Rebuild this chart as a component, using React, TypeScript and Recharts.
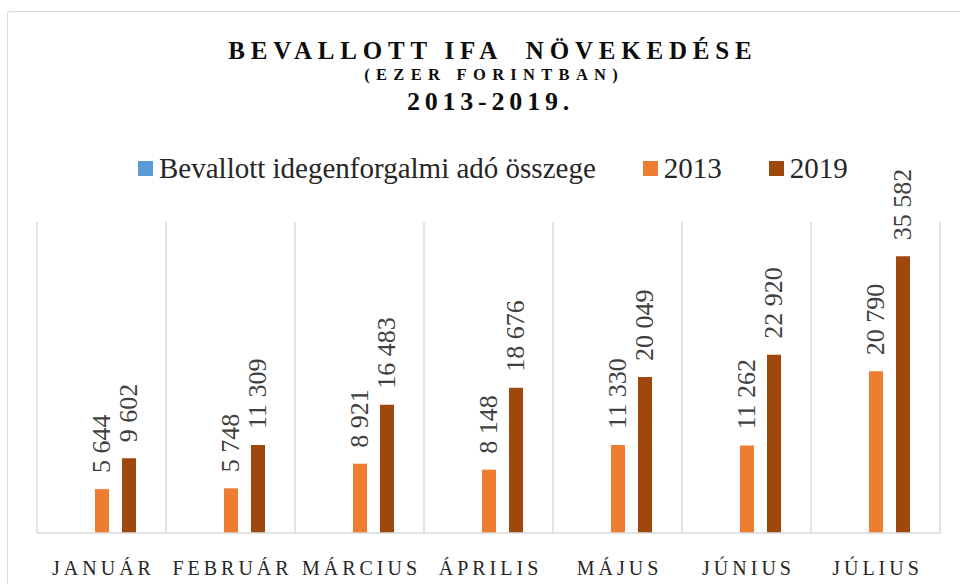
import React from "react";
import {
  BarChart,
  Bar,
  XAxis,
  YAxis,
  CartesianGrid,
  Legend,
  LabelList,
} from "recharts";

const months = ["JANUÁR", "FEBRUÁR", "MÁRCIUS", "ÁPRILIS", "MÁJUS", "JÚNIUS", "JÚLIUS"];
const osszeg: (number | null)[] = [null, null, null, null, null, null, null];
const ertek2013 = [5644, 5748, 8921, 8148, 11330, 11262, 20790];
const ertek2019 = [9602, 11309, 16483, 18676, 20049, 22920, 35582];
const seriesNames = ["Bevallott idegenforgalmi adó összege", "2013", "2019"];
const colors = ["#5B9BD5", "#ED7D31", "#9E480E"];

const data = months.map((m, i) => ({
  month: m,
  osszeg: osszeg[i],
  y2013: ertek2013[i],
  y2019: ertek2019[i],
}));

const serif = "Liberation Serif, Times New Roman, serif";

const fmt = (v: number) => String(v).replace(/\B(?=(\d{3})+(?!\d))/g, " ");

const BarValue = (props: any) => {
  const { x, y, width, value } = props;
  if (value == null) return null;
  const cx = x + width / 2;
  const ty = y - 16;
  return (
    <text
      x={cx}
      y={ty}
      transform={`rotate(-90, ${cx}, ${ty})`}
      textAnchor="start"
      dominantBaseline="central"
      fontFamily={serif}
      fontSize={26}
      fill="#404040"
    >
      {fmt(value)}
    </text>
  );
};

const MonthTick = (props: any) => {
  const { x, y, payload } = props;
  return (
    <text
      x={x + 2}
      y={y + 34}
      textAnchor="middle"
      fontFamily={serif}
      fontSize={20}
      fill="#262626"
      style={{ letterSpacing: "4px" }}
    >
      {payload.value}
    </text>
  );
};

const LegendBox = () => (
  <div
    style={{
      display: "flex",
      alignItems: "center",
      fontFamily: serif,
      fontSize: 29,
      lineHeight: "32px",
      color: "#262626",
      whiteSpace: "nowrap",
    }}
  >
    {seriesNames.map((name, i) => (
      <div
        key={name}
        style={{ display: "flex", alignItems: "center", marginRight: i < 2 ? 47 : 0 }}
      >
        <span
          style={{
            display: "inline-block",
            width: 15,
            height: 15,
            background: colors[i],
            marginRight: 6,
          }}
        />
        <span>{name}</span>
      </div>
    ))}
  </div>
);

export default function App() {
  return (
    <div
      style={{
        position: "absolute",
        left: 0,
        top: 0,
        width: 960,
        height: 584,
        overflow: "hidden",
        background: "#fff",
      }}
    >
      <div
        style={{
          position: "absolute",
          left: 7,
          top: 11,
          width: 1000,
          height: 700,
          border: "1.5px solid #D9D9D9",
          borderRadius: 3,
        }}
      />
      <svg
        width={960}
        height={130}
        style={{ position: "absolute", left: 0, top: 0 }}
      >
        <text
          x={490 + 2.9}
          y={59}
          textAnchor="middle"
          fontFamily={serif}
          fontWeight="bold"
          fontSize={25}
          fill="#0D0D0D"
          style={{ letterSpacing: "5.8px", whiteSpace: "pre" }}
        >
          {"BEVALLOTT IFA  NÖVEKEDÉSE"}
        </text>
        <text
          x={491 + 3.2}
          y={79.5}
          textAnchor="middle"
          fontFamily={serif}
          fontWeight="bold"
          fontSize={16.5}
          fill="#0D0D0D"
          style={{ letterSpacing: "6.3px" }}
        >
          (EZER FORINTBAN)
        </text>
        <text
          x={488 + 2.5}
          y={109.5}
          textAnchor="middle"
          fontFamily={serif}
          fontWeight="bold"
          fontSize={26}
          fill="#0D0D0D"
          style={{ letterSpacing: "4.8px" }}
        >
          2013-2019.
        </text>
      </svg>
      <div style={{ position: "absolute", left: 0, top: 0 }}>
        <BarChart
          width={960}
          height={584}
          data={data}
          margin={{ top: 222, right: 20, bottom: 21, left: 37 }}
          barSize={14}
          barGap={13}
        >
          <CartesianGrid
            horizontal={false}
            stroke="#D9D9D9"
            strokeWidth={1.5}
            verticalCoordinatesGenerator={({ offset }: any) =>
              months
                .map((_, i) => offset.left + (i * offset.width) / months.length)
                .concat(offset.left + offset.width)
            }
          />
          <XAxis
            dataKey="month"
            height={30}
            axisLine={{ stroke: "#D9D9D9", strokeWidth: 1.5 }}
            tickLine={false}
            tick={<MonthTick />}
            interval={0}
          />
          <YAxis hide domain={[0, 40000]} />
          <Legend
            layout="horizontal"
            verticalAlign="middle"
            align="center"
            wrapperStyle={{ top: 152, left: 138, width: "auto" }}
            content={<LegendBox />}
          />
          <Bar dataKey="osszeg" name={seriesNames[0]} fill={colors[0]} isAnimationActive={false} />
          <Bar dataKey="y2013" name={seriesNames[1]} fill={colors[1]} isAnimationActive={false}>
            <LabelList dataKey="y2013" content={<BarValue />} />
          </Bar>
          <Bar dataKey="y2019" name={seriesNames[2]} fill={colors[2]} isAnimationActive={false}>
            <LabelList dataKey="y2019" content={<BarValue />} />
          </Bar>
        </BarChart>
      </div>
    </div>
  );
}
